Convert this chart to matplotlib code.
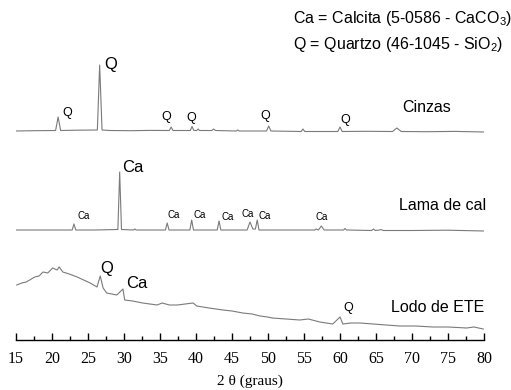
import matplotlib
matplotlib.use("Agg")
import numpy as np
import matplotlib.pyplot as plt

plt.rcParams['font.family'] = ['Liberation Sans', 'DejaVu Sans']
plt.rcParams['mathtext.fontset'] = 'custom'
plt.rcParams['mathtext.rm'] = 'Liberation Sans'
plt.rcParams['mathtext.default'] = 'regular'

# Difratogramas (2 theta em graus, intensidade deslocada em unidades arbitrarias)
cinzas_x = [15.0, 17.5, 20.5, 20.85, 21.2, 23.5, 26.3, 26.62, 26.95, 28.0, 31.0, 33.5,
            36.3, 36.55, 36.8, 39.2, 39.45, 39.7, 40.1, 40.3, 40.5, 42.2, 42.45, 42.7,
            45.6, 45.8, 46.0, 49.8, 50.1, 50.4, 54.6, 54.85, 55.1, 59.7, 60.0, 60.3,
            63.5, 67.3, 67.9, 68.5, 72.0, 76.0, 80.0]
cinzas_y = [209, 209.3, 209.5, 223, 209.5, 209.8, 210, 275, 210, 209.5, 209.3, 209.6,
            209.5, 213, 209.5, 209.5, 213.5, 209.5, 209.5, 211, 209.5, 209.5, 211, 209.5,
            209, 210, 209, 209, 214, 209, 208.5, 211, 208.5, 208.5, 213, 208.5,
            208.7, 208.5, 212, 208.5, 208.3, 208.6, 208]

lama_x = [15.0, 19.0, 22.8, 23.05, 23.3, 26.0, 29.15, 29.4, 29.65, 31.3, 31.5, 31.7,
          35.75, 36.0, 36.25, 39.15, 39.4, 39.65, 42.95, 43.2, 43.45, 47.1, 47.5, 47.9,
          48.25, 48.5, 48.75, 52.0, 56.5, 56.7, 57.0, 57.4, 57.8, 60.5, 60.7, 60.9,
          64.4, 64.65, 64.9, 65.5, 65.7, 66.0, 70.0, 75.0, 80.0]
lama_y = [110, 110, 110, 116, 110, 110, 110.5, 168, 110.5, 110, 111, 110,
          110, 117, 110, 110, 120, 110, 110, 119, 110, 110, 118, 111,
          111, 120, 110, 110, 110, 111, 110, 114, 110, 110, 111.5, 110,
          109.5, 111, 109.5, 110, 110.5, 109.5, 109.5, 109.8, 109]

lodo_x = [15.1, 15.8, 16.4, 16.9, 17.6, 18.2, 18.75, 19.4, 20.1, 20.7, 21.0, 21.5, 22.4, 23.5,
          24.4, 25.3, 26.25, 26.7, 27.1, 27.6, 28.3, 29.0, 29.85, 30.1, 31.2, 32.6,
          33.6, 34.6, 35.3, 36.3, 37.4, 38.5, 39.6, 40.1, 41.8, 43.75, 45.0, 46.5,
          47.8, 48.9, 49.9, 50.6, 52.5, 54.4, 55.6, 57.2, 59.0, 60.0, 60.4, 61.5,
          62.8, 64.6, 66.4, 68.3, 70.5, 72.9, 75.0, 77.6, 78.6, 79.9]
lodo_y = [55, 57, 58, 60, 63, 64, 68, 67, 72, 70, 73, 68, 66, 63,
          60, 57, 53, 64, 52, 47, 46, 45, 51, 40, 39, 37,
          36, 35, 37, 35, 35, 36, 37, 34, 32, 30, 29, 27,
          26, 24, 23, 22, 21, 20, 21, 18, 16, 23, 16, 17,
          17, 16, 15, 14, 14, 13, 13, 12, 13, 11]

fig = plt.figure(figsize=(5.11, 3.90), dpi=100)
ax = fig.add_axes([16 / 511, 50 / 390, 468 / 511, 340 / 390])

cor = '#7a7a7a'
ax.plot(cinzas_x, cinzas_y, color=cor, linewidth=0.8)
ax.plot(lama_x, lama_y, color=cor, linewidth=0.8)
ax.plot(lodo_x, lodo_y, color=cor, linewidth=0.8)

ax.set_xlim(15, 80)
ax.set_ylim(0, 340)
ax.set_xticks(np.arange(15, 81, 5))
ax.set_xticks(np.arange(17.5, 80, 5), minor=True)
ax.tick_params(axis='x', which='major', direction='in', length=5, width=1, pad=8)
ax.tick_params(axis='x', which='minor', direction='in', length=3, width=1)
ax.set_yticks([])
for lado in ['top', 'left', 'right']:
    ax.spines[lado].set_visible(False)
ax.spines['bottom'].set_linewidth(1)
for rot in ax.get_xticklabels():
    rot.set_fontfamily('Liberation Serif')
    rot.set_fontsize(11.5)
ax.set_xlabel('2 θ (graus)', fontfamily='Liberation Serif', fontsize=11, labelpad=5)

# Legenda das fases
ax.text(53.5, 321, 'Ca = Calcita (5-0586 - CaCO$_3$)', fontsize=11.5, va='center', ha='left')
ax.text(53.5, 296, 'Q = Quartzo (46-1045 - SiO$_2$)', fontsize=11.5, va='center', ha='left')

# Cinzas
ax.text(22.1, 227, 'Q', fontsize=9, ha='center', va='center')
ax.text(28.2, 275, 'Q', fontsize=12, ha='center', va='center')
ax.text(35.8, 223, 'Q', fontsize=9, ha='center', va='center')
ax.text(39.3, 222, 'Q', fontsize=9, ha='center', va='center')
ax.text(49.6, 224, 'Q', fontsize=9, ha='center', va='center')
ax.text(60.7, 220, 'Q', fontsize=9, ha='center', va='center')
ax.text(72.1, 233, 'Cinzas', fontsize=11.5, ha='center', va='center')

# Lama de cal
ax.text(31.25, 173, 'Ca', fontsize=12, ha='center', va='center')
for xx, yy in [(24.4, 124), (36.9, 125), (40.5, 125), (44.4, 123),
               (47.2, 126), (49.6, 124), (57.4, 123)]:
    ax.text(xx, yy, 'Ca', fontsize=7, ha='center', va='center')
ax.text(74.3, 134, 'Lama de cal', fontsize=11.5, ha='center', va='center')

# Lodo de ETE
ax.text(27.6, 72, 'Q', fontsize=12, ha='center', va='center')
ax.text(31.8, 57, 'Ca', fontsize=12, ha='center', va='center')
ax.text(61.1, 32, 'Q', fontsize=9, ha='center', va='center')
ax.text(73.5, 33, 'Lodo de ETE', fontsize=11.5, ha='center', va='center')

fig.savefig('out.png', dpi=100)
